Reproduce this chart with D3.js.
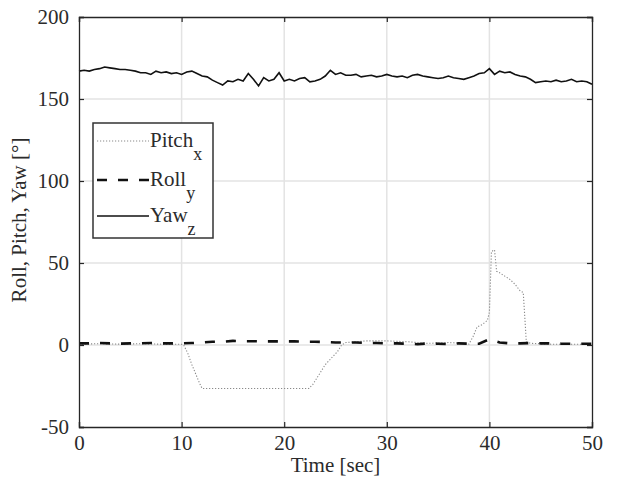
<!DOCTYPE html>
<html><head><meta charset="utf-8">
<script src="https://cdn.jsdelivr.net/npm/d3@7"></script>
<style>body{margin:0;background:#fff}svg{display:block}text{font-family:"Liberation Serif","Times New Roman",serif;fill:#2b2b2b}</style>
</head><body><svg id="c" width="617" height="492"></svg>
<script>
const xTicks=[0,10,20,30,40,50];
const yTicks=[-50,0,50,100,150,200];
const yawStep=0.5;
const yawValues=[167,167.5,167,168,168.5,169.5,169,168.5,168,168,
167.5,167,166,166,165,167,166,166.5,165.5,166,
165,166.5,167,165.5,164,163.5,161.5,160,158.5,161,
160.5,162,161,165.5,162,158,163,161,162,166,
161,162,161,162.5,163,160.5,161,162,164,167.5,
165,166,164.5,164.5,165,163.5,164,164.5,163.5,164,
165,164,163.5,164,163,164.5,165,164,163.5,163,
162.5,163,164,163,162.5,162,163,164,165.5,166,
168.5,165,167,166,166.5,165,164,163.5,162,160,
160.5,161,160.5,161.5,160.5,161,162,160.5,161,160.5,
159];
const rollStep=1;
const rollValues=[1,1,1.2,1,0.8,1,1,1.2,1,1,
1,1.2,1.5,2,2,2.5,2.3,2.3,2.2,2.2,
2.2,2.2,2,2,1.8,1.5,1.5,1.5,1.2,1.2,
1,1,0.8,0.5,1,0.8,0.5,1,0.8,0.8,
3.5,1.5,1,1,1.2,1,1,0.8,0.8,0.8,
0.8];
const pitchT=[0,2,4,6,8,10,10.2,10.6,11,11.4,11.8,12,16,20,22.4,22.8,23.2,23.6,24,24.6,25.2,25.6,26,28,30,32,34,36,37.5,38,38.4,38.8,39.3,39.8,40.0,40.2,40.5,40.7,41,41.5,42,42.5,43,43.3,43.6,44,46,48,50];
const pitchV=[0.5,0.8,0.5,0.8,0.5,0.5,0,-5,-12,-18,-24,-26.5,-26.5,-26.5,-26.5,-24,-20,-16,-12,-8,-4,0,1.5,2.5,2.5,2,1,1.5,1,0.5,5,11,12.5,15,20,57,58,45,44,42,40,37,33,32,2,1,0.5,0.5,0.3];
const legendLabels=[["Pitch","x"],["Roll","y"],["Yaw","z"]];

const L=79,R=592,T=17,B=427;
const FONT="Liberation Serif";
const svg=d3.select("#c");
const x=d3.scaleLinear().domain([0,50]).range([L,R]);
const y=d3.scaleLinear().domain([-50,200]).range([B,T]);

svg.append("g").selectAll("line").data(xTicks.slice(1,-1)).join("line")
 .attr("x1",d=>x(d)).attr("x2",d=>x(d)).attr("y1",T).attr("y2",B)
 .attr("stroke","#e3e3e3").attr("stroke-width",1.5);
svg.append("g").selectAll("line").data(yTicks.slice(1,-1)).join("line")
 .attr("y1",d=>y(d)).attr("y2",d=>y(d)).attr("x1",L).attr("x2",R)
 .attr("stroke","#e3e3e3").attr("stroke-width",1.5);

const line=d3.line().x(d=>x(d[0])).y(d=>y(d[1]));
const pitch=pitchT.map((t,i)=>[t,pitchV[i]]);
const roll=rollValues.map((v,i)=>[i*rollStep,v]);
const yaw=yawValues.map((v,i)=>[i*yawStep,v]);

svg.append("path").attr("d",line(pitch)).attr("fill","none").attr("stroke","#8a8a8a").attr("stroke-width",1.1).attr("stroke-dasharray","1.2,1.8");
svg.append("path").attr("d",line(roll)).attr("fill","none").attr("stroke","#111").attr("stroke-width",2.6).attr("stroke-dasharray","10,11");
svg.append("path").attr("d",line(yaw)).attr("fill","none").attr("stroke","#111").attr("stroke-width",1.6);

const fmt=d=>String(d);
const ax=svg.append("g").attr("transform",`translate(0,${B})`).call(d3.axisBottom(x).tickValues(xTicks).tickSize(-5).tickPadding(8).tickFormat(fmt));
const ax2=svg.append("g").attr("transform",`translate(0,${T})`).call(d3.axisTop(x).tickValues(xTicks).tickSize(-5).tickFormat(""));
const ay=svg.append("g").attr("transform",`translate(${L},0)`).call(d3.axisLeft(y).tickValues(yTicks).tickSize(-5).tickPadding(10).tickFormat(fmt));
const ay2=svg.append("g").attr("transform",`translate(${R},0)`).call(d3.axisRight(y).tickValues(yTicks).tickSize(-5).tickFormat(""));
[ax,ax2,ay,ay2].forEach(g=>{g.attr("font-family",FONT).attr("font-size",21);
 g.select(".domain").attr("stroke","#262626").attr("stroke-width",1.3);
 g.selectAll(".tick line").attr("stroke","#262626").attr("stroke-width",1.2);
 g.selectAll("text").attr("fill","#2b2b2b");});

svg.append("text").attr("x",(L+R)/2).attr("y",472).attr("text-anchor","middle").attr("font-family",FONT).attr("font-size",21).text("Time [sec]");
svg.append("text").attr("transform","translate(26,220) rotate(-90)").attr("text-anchor","middle").attr("font-family",FONT).attr("font-size",21).text("Roll, Pitch, Yaw [°]");

const lg=svg.append("g");
lg.append("rect").attr("x",93).attr("y",123).attr("width",120).attr("height",115).attr("fill","#fff").attr("stroke","#333").attr("stroke-width",1.5);
const ly=[141,180,216];
const styles=[{s:"#8a8a8a",w:1.1,d:"1.2,1.8"},{s:"#111",w:2.6,d:"10,11"},{s:"#111",w:1.6,d:null}];
legendLabels.forEach((lab,i)=>{
  lg.append("line").attr("x1",97).attr("x2",149).attr("y1",ly[i]).attr("y2",ly[i]).attr("stroke",styles[i].s).attr("stroke-width",styles[i].w).attr("stroke-dasharray",styles[i].d);
  const t=lg.append("text").attr("x",150).attr("y",ly[i]+6).attr("font-family",FONT).attr("font-size",21);
  t.append("tspan").text(lab[0]);
  t.append("tspan").attr("dy",13).attr("font-size",18).text(lab[1]);
});
</script></body></html>
